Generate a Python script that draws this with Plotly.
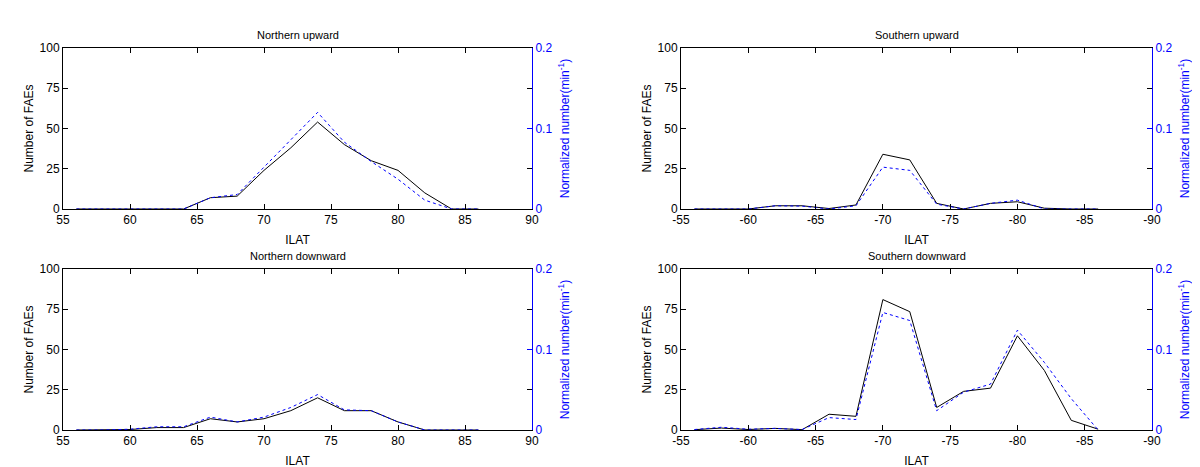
import plotly.graph_objects as go

lat_north = [56, 58, 60, 62, 64, 66, 68, 70, 72, 74, 76, 78, 80, 82, 84, 86]
lat_south = [-56, -58, -60, -62, -64, -66, -68, -70, -72, -74, -76, -78, -80, -82, -84, -86]

nu_count = [0, 0, 0, 0, 0, 7, 8, 24, 38, 54, 40, 30, 24, 10, 0, 0]
nu_norm = [0, 0, 0, 0, 0, 0.014, 0.018, 0.052, 0.086, 0.120, 0.083, 0.059, 0.037, 0.011, 0, 0]

su_count = [0, 0, 0, 2, 2, 0.3, 2.5, 34, 30.5, 3.5, 0, 3.5, 4.5, 0.5, 0, 0]
su_norm = [0, 0, 0, 0.004, 0.0036, 0, 0.004, 0.052, 0.048, 0.006, 0, 0.007, 0.011, 0, 0, 0]

nd_count = [0, 0, 0.3, 1.5, 1.5, 7, 5, 7, 12, 20, 12, 12, 5, 0, 0, 0]
nd_norm = [0, 0, 0.001, 0.004, 0.004, 0.016, 0.010, 0.016, 0.028, 0.044, 0.025, 0.024, 0.010, 0, 0, 0]

sd_count = [0.2, 1.2, 0.3, 1, 0.2, 9.8, 8.5, 81, 73.5, 14, 24, 26, 58.5, 37, 6, 0.5]
sd_norm = [0.0006, 0.0034, 0.001, 0.002, 0.0006, 0.0154, 0.013, 0.146, 0.136, 0.024, 0.047, 0.057, 0.124, 0.084, 0.039, 0]

titles = ["Northern upward", "Southern upward", "Northern downward", "Southern downward"]
x_ticks_north = [55, 60, 65, 70, 75, 80, 85, 90]
x_ticks_south = [-55, -60, -65, -70, -75, -80, -85, -90]
left_ticks = [0, 25, 50, 75, 100]
right_ticks = [0, 0.1, 0.2]

panels = [
    (lat_north, nu_count, nu_norm, [55, 90], x_ticks_north),
    (lat_south, su_count, su_norm, [-55, -90], x_ticks_south),
    (lat_north, nd_count, nd_norm, [55, 90], x_ticks_north),
    (lat_south, sd_count, sd_norm, [-55, -90], x_ticks_south),
]

W, H = 1200, 467
OFF = 8  # page body margin compensation
xdoms = [((63 - OFF) / W, (532 - OFF) / W), ((681 - OFF) / W, (1152 - OFF) / W)]
ydoms = [((H - 209 + OFF) / H, (H - 48 + OFF) / H), ((H - 430 + OFF) / H, (H - 269 + OFF) / H)]

FONT = "Liberation Sans, Arial, sans-serif"
BLUE = "#0000ff"

fig = go.Figure()
layout = {}
annotations = []

for i, (xs, cnt, nrm, xr, xt) in enumerate(panels):
    row, col = divmod(i, 2)
    xi = i + 1
    yl = i + 1
    yr = i + 5
    xname = "x" if xi == 1 else f"x{xi}"
    ylname = "y" if yl == 1 else f"y{yl}"
    yrname = f"y{yr}"

    fig.add_trace(go.Scatter(x=xs, y=cnt, mode="lines", xaxis=xname, yaxis=ylname,
                             line=dict(color="black", width=1), showlegend=False))
    fig.add_trace(go.Scatter(x=xs, y=nrm, mode="lines", xaxis=xname, yaxis=yrname,
                             line=dict(color=BLUE, width=1, dash="3px,3px"), showlegend=False))

    xkey = "xaxis" if xi == 1 else f"xaxis{xi}"
    ylkey = "yaxis" if yl == 1 else f"yaxis{yl}"
    yrkey = f"yaxis{yr}"

    layout[xkey] = dict(
        domain=list(xdoms[col]), anchor=ylname, range=xr, tickvals=xt,
        ticktext=[str(v) for v in xt], ticks="inside", ticklen=5, tickcolor="black",
        showline=True, linecolor="black", linewidth=1, mirror="ticks",
        showgrid=False, zeroline=False, automargin=False,
        tickfont=dict(family=FONT, size=12, color="black"),
        title=dict(text="ILAT", font=dict(family=FONT, size=12, color="black"), standoff=9),
    )
    layout[ylkey] = dict(
        domain=list(ydoms[row]), anchor=xname, range=[0, 100], tickvals=left_ticks,
        ticks="inside", ticklen=5, tickcolor="black",
        showline=True, linecolor="black", linewidth=1, mirror="ticks",
        showgrid=False, zeroline=False, automargin=False,
        tickfont=dict(family=FONT, size=12, color="black"),
        title=dict(text="Number of FAEs", font=dict(family=FONT, size=12, color="black"), standoff=3),
    )
    layout[yrkey] = dict(
        overlaying=ylname, anchor=xname, side="right", range=[0, 0.2], tickvals=right_ticks,
        ticktext=["0", "0.1", "0.2"],
        ticks="inside", ticklen=5, tickcolor=BLUE,
        showline=True, linecolor=BLUE, linewidth=1,
        showgrid=False, zeroline=False, automargin=False,
        tickfont=dict(family=FONT, size=12, color=BLUE),
        title=dict(text="Normalized number(min<sup>-1</sup>)", font=dict(family=FONT, size=12, color=BLUE), standoff=9),
    )

    annotations.append(dict(
        text=titles[i], xref="paper", yref="paper",
        x=(xdoms[col][0] + xdoms[col][1]) / 2, y=ydoms[row][1] + 5 / H,
        xanchor="center", yanchor="bottom", showarrow=False,
        font=dict(family=FONT, size=11, color="black"),
    ))

fig.update_layout(
    width=W, height=H,
    margin=dict(l=0, r=0, t=0, b=0, autoexpand=False),
    paper_bgcolor="white", plot_bgcolor="white",
    annotations=annotations,
    **layout,
)

fig.write_html("out.html")
